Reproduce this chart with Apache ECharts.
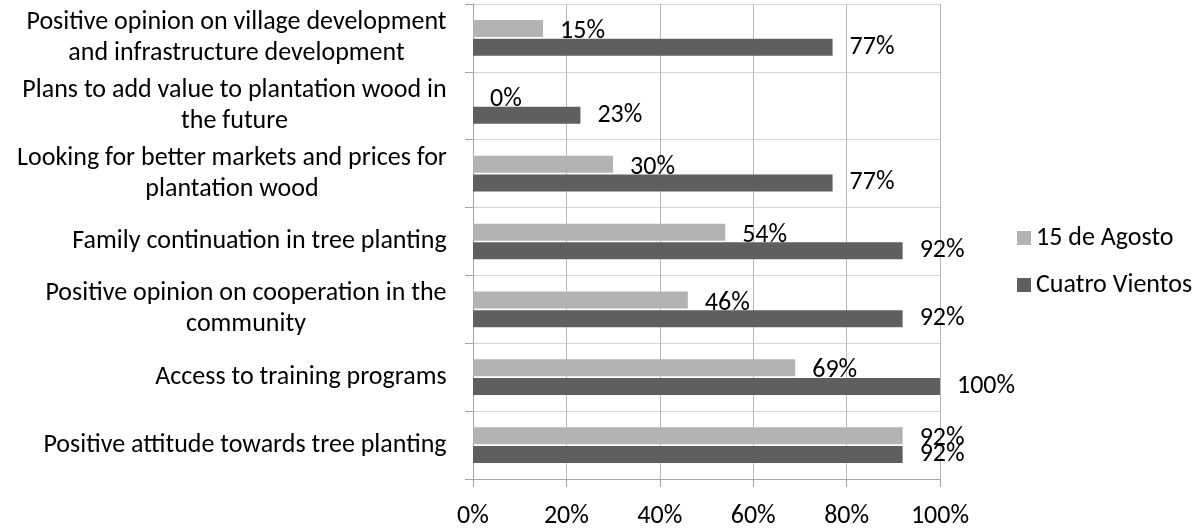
<!DOCTYPE html>
<html>
<head>
<meta charset="utf-8">
<script src="https://cdn.jsdelivr.net/npm/echarts@6/dist/echarts.min.js"></script>
<style>
html,body{margin:0;padding:0;background:#fff;}
#chart{width:1197px;height:529px;}
</style>
</head>
<body>
<div id="chart"></div>
<script>
// Categories bottom -> top
const categories = [
  "Positive attitude towards tree planting",
  "Access to training programs",
  "Positive opinion on cooperation in the\ncommunity",
  "Family continuation in tree planting",
  "Looking for better markets and prices for\nplantation wood",
  "Plans to add value to plantation wood in\nthe future",
  "Positive opinion on village development\nand infrastructure development"
];
const agosto = [92, 69, 46, 54, 30, 0, 15];
const cuatro = [92, 100, 92, 92, 77, 23, 77];
const seriesNames = ["15 de Agosto", "Cuatro Vientos"];
const xTicks = [0, 20, 40, 60, 80, 100];

const FONT = "Carlito, Lato, sans-serif";
const FS = 26;

// measure longest line of each category for centered multi-line labels
const cv = document.createElement('canvas').getContext('2d');
cv.font = FS + 'px ' + FONT;
const rich = {};
categories.forEach((c, i) => {
  const w = Math.max(...c.split('\n').map(l => cv.measureText(l).width));
  rich['c' + i] = { width: Math.ceil(w), align: 'center', fontSize: FS, fontFamily: FONT, color: '#000', lineHeight: 31 };
});

const chart = echarts.init(document.getElementById('chart'));
const labelCfg = {
  show: true, position: 'right', distance: 17,
  formatter: p => p.value + '%',
  fontSize: FS, fontFamily: FONT, color: '#000'
};
chart.setOption({
  animation: false,
  grid: { left: 473, top: 4, right: 257, bottom: 47, containLabel: false },
  legend: {
    orient: 'vertical', left: 1012, top: 220,
    data: seriesNames,
    itemWidth: 14, itemHeight: 14, itemGap: 21,
    icon: 'rect',
    textStyle: { fontSize: FS, fontFamily: FONT, color: '#000' }
  },
  xAxis: {
    type: 'value', min: 0, max: 100, interval: 20,
    axisLine: { show: true, lineStyle: { color: '#a6a6a6', width: 1 } },
    axisTick: { show: true, length: 8, lineStyle: { color: '#a6a6a6' } },
    splitLine: { show: true, lineStyle: { color: '#b8b8b8', width: 1 } },
    axisLabel: { margin: 24, fontSize: FS, fontFamily: FONT, color: '#000',
      formatter: v => (xTicks.includes(v) ? v + '%' : '') }
  },
  yAxis: {
    type: 'category', data: categories,
    axisLine: { show: true, lineStyle: { color: '#a6a6a6', width: 1 } },
    axisTick: { show: true, length: 8, lineStyle: { color: '#a6a6a6' } },
    splitLine: { show: true, lineStyle: { color: '#d6d6d6', width: 1 } },
    axisLabel: {
      margin: 26, align: 'right',
      formatter: (v, i) => v.split('\n').map(l => '{c' + i + '|' + l + '}').join('\n'),
      rich: rich
    }
  },
  series: [
    { name: seriesNames[0], type: 'bar', data: agosto, barWidth: 17, barGap: '10%',
      itemStyle: { color: '#b3b3b3' }, label: Object.assign({}, labelCfg, { offset: [0, 3] }) },
    { name: seriesNames[1], type: 'bar', data: cuatro, barWidth: 17, barGap: '10%',
      itemStyle: { color: '#5f5f5f' }, label: labelCfg }
  ]
});
</script>
</body>
</html>
